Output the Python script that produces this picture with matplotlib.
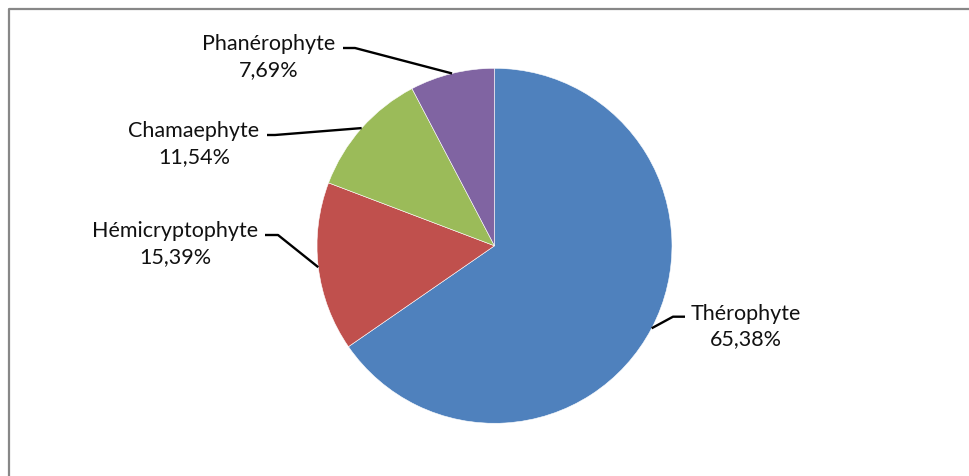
import numpy as np
import matplotlib.pyplot as plt

# data
categories = ['Thérophyte', 'Hémicryptophyte', 'Chamaephyte', 'Phanérophyte']
values = [65.38, 15.39, 11.54, 7.69]
pct_labels = ['65,38%', '15,39%', '11,54%', '7,69%']
colors = ['#4F81BD', '#C0504D', '#9BBB59', '#8064A2']

W, H = 970, 476
# layout, in image pixels (y down)
center = (494.5, 245.8)
radius = 177.5
label_pos = [(745.5, 326.5), (175.5, 244), (194, 144), (268.5, 57)]
stub = [(685, 316.7, 673), (265, 235, 278), (267, 135, 275), (343, 48, 355)]


def flip(y):
    return H - y


plt.rcParams['font.family'] = ['Lato', 'DejaVu Sans']

fig = plt.figure(figsize=(W / 100, H / 100), dpi=100)
ax = fig.add_axes([0, 0, 1, 1])
ax.set_xlim(0, W)
ax.set_ylim(0, H)
ax.set_aspect('equal')
ax.axis('off')

wedges, _ = ax.pie(values, colors=colors, startangle=90, counterclock=False,
                   center=(center[0], flip(center[1])), radius=radius,
                   wedgeprops=dict(edgecolor='white', linewidth=0.4))
ax.set_xlim(0, W)
ax.set_ylim(0, H)

for i, w in enumerate(wedges):
    mid = np.deg2rad((w.theta1 + w.theta2) / 2.)
    ex = center[0] + radius * np.cos(mid)
    ey = flip(center[1]) + radius * np.sin(mid)
    x0, y0, x1 = stub[i]
    ax.plot([x0, x1, ex], [flip(y0), flip(y0), ey], color='black', lw=1.7,
            solid_capstyle='butt', zorder=3)
    lx, ly = label_pos[i]
    ax.text(lx, flip(ly), categories[i] + '\n' + pct_labels[i], ha='center', va='center',
            multialignment='center', fontsize=15.5, linespacing=1.36, color='#111111')

# chart frame (only top and left visible)
ax.plot([9, 9, W], [0, flip(9), flip(9)], color='#878787', lw=1.6, solid_capstyle='butt',
        clip_on=False)

fig.savefig('out.png', dpi=100)
